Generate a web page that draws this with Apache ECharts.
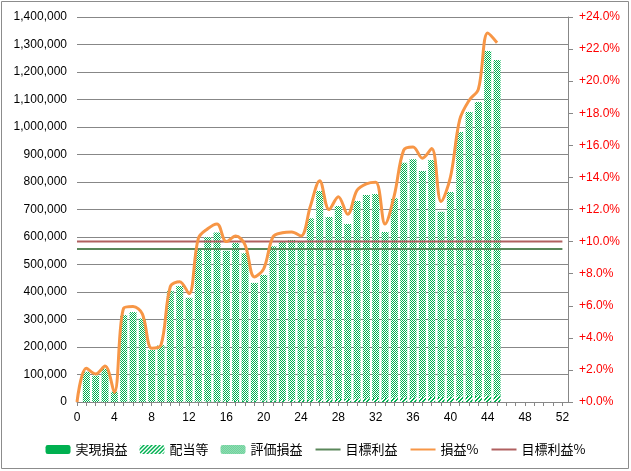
<!DOCTYPE html>
<html>
<head>
<meta charset="utf-8">
<script src="https://cdn.jsdelivr.net/npm/echarts@6/dist/echarts.min.js"></script>
<style>
html,body{margin:0;padding:0;background:#fff;}
#c{width:631px;height:471px;}
</style>
</head>
<body>
<div id="c"></div>
<script>
// ---- data ----
const weeks = [];
for (let i = 0; i <= 52; i++) weeks.push(i);
const barWeeks = [1,2,3,4,5,6,7,8,9,10,11,12,13,14,15,16,17,18,19,20,21,22,23,24,25,26,27,28,29,30,31,32,33,34,35,36,37,38,39,40,41,42,43,44,45];
const realized = [0,0,0,0,0,0,0,0,0,0,0,0,0,0,0,0,0,0,0,0,0,0,0,0,0,0,0,0,0,0,0,0,0,0,0,0,0,0,0,0,0,0,0,0,0];
const dividends = [0,0,0,0,0,0,0,0,0,0,0,0,2000,3000,3000,4000,4000,5000,5000,6000,6000,7000,8000,8000,9000,10000,10000,11000,12000,13000,14000,15000,15000,16000,17000,17000,18000,19000,19000,20000,21000,22000,23000,24000,25000];
const unrealized = [110000,96000,121000,37000,316000,327000,304000,189000,207000,404000,422000,379000,558000,596000,613000,546000,574000,536000,428000,456000,560000,577000,581000,574000,659000,757000,663000,702000,635000,718000,739000,741000,603000,725000,853000,866000,822000,861000,673000,744000,961000,1033000,1068000,1252000,1219000];
const lineWeeks = [0,1,2,3,4,5,6,7,8,9,10,11,12,13,14,15,16,17,18,19,20,21,22,23,24,25,26,27,28,29,30,31,32,33,34,35,36,37,38,39,40,41,42,43,44,45];
const profitPct = [0,2.1,1.75,2.24,0.6,5.85,5.95,5.5,3.35,3.55,7.2,7.5,6.75,10.2,10.8,11.1,10.0,10.35,9.8,7.8,8.3,10.3,10.55,10.6,10.35,12.2,13.8,12.0,12.8,11.7,13.2,13.6,13.7,11.1,12.9,15.7,15.9,15.2,15.8,12.5,14.0,17.6,18.8,19.5,23.0,22.4];
const targetProfit = 556000;
const targetPct = 10.0;
const xLabelValues = [0,4,8,12,16,20,24,28,32,36,40,44,48,52];
const names = ['実現損益','配当等','評価損益','目標利益','損益%','目標利益%'];

// ---- patterns ----
const GREEN = '#00B050';
function checker() {
  const c = document.createElement('canvas'); c.width = 2; c.height = 2;
  const g = c.getContext('2d');
  g.fillStyle = '#fff'; g.fillRect(0,0,2,2);
  g.fillStyle = GREEN; g.fillRect(0,0,1,1); g.fillRect(1,1,1,1);
  return {image: c, repeat: 'repeat'};
}
function hatch() {
  const c = document.createElement('canvas'); c.width = 4; c.height = 4;
  const g = c.getContext('2d');
  g.fillStyle = '#fff'; g.fillRect(0,0,4,4);
  g.fillStyle = GREEN;
  for (let y = 0; y < 4; y++) {
    const x = (3 - y);
    g.fillRect(x,y,1,1); g.fillRect((x+1)%4,y,1,1);
  }
  return {image: c, repeat: 'repeat'};
}

const pair = (xs, ys) => xs.map((x,i) => [x, ys[i]]);
// value first so that stacking acts on the value dimension
const vpair = (xs, ys) => xs.map((x,i) => [ys[i], x]);
const noSymbol = {color: 'rgba(0,0,0,0)', borderColor: 'rgba(0,0,0,0)', borderWidth: 0, opacity: 0};

const chart = echarts.init(document.getElementById('c'), null, {renderer: 'canvas'});
const axisFont = {fontFamily: 'Liberation Sans, Arial, sans-serif', fontSize: 12, color: '#000'};
chart.setOption({
  animation: false,
  backgroundColor: '#fff',
  graphic: [{type: 'rect', shape: {x: 1.5, y: 1.5, width: 627, height: 467}, style: {fill: 'none', stroke: '#8c8c8c', lineWidth: 1}, silent: true}],
  grid: {left: 77, right: 63, top: 17, bottom: 69},
  legend: {
    data: [
      {name: names[0]}, {name: names[1]}, {name: names[2]},
      {name: names[3], itemStyle: noSymbol},
      {name: names[4], itemStyle: noSymbol},
      {name: names[5], itemStyle: noSymbol}
    ],
    bottom: 10,
    left: 'center',
    itemWidth: 25,
    itemHeight: 9,
    itemGap: 12,
    textStyle: {fontFamily: 'Noto Sans CJK JP', fontSize: 13, color: '#000'}
  },
  xAxis: {
    type: 'value', min: 0, max: 52.6,
    axisLine: {show: true, onZero: false, lineStyle: {color: '#878787', width: 1}},
    axisTick: {show: true, length: 4, lineStyle: {color: '#878787'}, customValues: weeks},
    axisLabel: Object.assign({margin: 10, customValues: xLabelValues}, axisFont),
    splitLine: {show: false}
  },
  yAxis: [{
    type: 'value', min: 0, max: 1400000, interval: 100000,
    axisLine: {show: false}, axisTick: {show: false},
    axisLabel: Object.assign({margin: 10, formatter: v => v.toLocaleString('en-US')}, axisFont),
    splitLine: {show: true, lineStyle: {color: '#878787', width: 1}}
  }, {
    type: 'value', min: 0, max: 24, interval: 2, position: 'right',
    axisLine: {show: true, lineStyle: {color: '#878787', width: 1}},
    axisTick: {show: true, length: 5, inside: false, lineStyle: {color: '#878787'}},
    axisLabel: Object.assign({}, axisFont, {color: '#FF0000', margin: 11, formatter: v => '+' + v.toFixed(1) + '%'}),
    splitLine: {show: false}
  }],
  series: [
    {name: names[0], type: 'bar', stack: 'pl', barWidth: 7, encode: {x: 1, y: 0}, data: vpair(barWeeks, realized), itemStyle: {color: GREEN}},
    {name: names[1], type: 'bar', stack: 'pl', barWidth: 7, encode: {x: 1, y: 0}, data: vpair(barWeeks, dividends), itemStyle: {color: hatch()}},
    {name: names[2], type: 'bar', stack: 'pl', barWidth: 7, encode: {x: 1, y: 0}, data: vpair(barWeeks, unrealized), itemStyle: {color: checker()}},
    {name: names[3], type: 'line', yAxisIndex: 0, symbol: 'none', z: 3, data: pair(weeks, weeks.map(() => targetProfit)), lineStyle: {color: '#5A875A', width: 2}, itemStyle: {color: '#5A875A'}},
    {name: names[4], type: 'line', yAxisIndex: 1, symbol: 'none', smooth: 0.35, z: 5, data: pair(lineWeeks, profitPct), lineStyle: {color: '#F79646', width: 3}, itemStyle: {color: '#F79646'}},
    {name: names[5], type: 'line', yAxisIndex: 1, symbol: 'none', z: 4, data: pair(weeks, weeks.map(() => targetPct)), lineStyle: {color: '#B06060', width: 2}, itemStyle: {color: '#B06060'}}
  ]
});
</script>
</body>
</html>
